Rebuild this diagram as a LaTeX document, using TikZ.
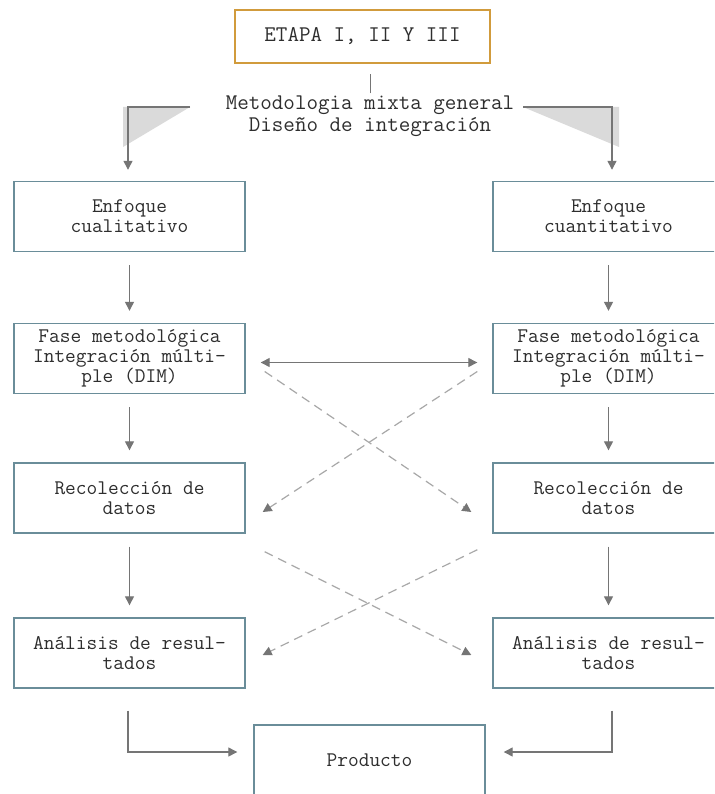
\documentclass[tikz,border=0pt]{standalone}
\usepackage{fontspec}
\usepackage{tikz}
\usetikzlibrary{arrows.meta,calc,positioning}
\definecolor{boxline}{HTML}{6A8D99}
\definecolor{stageline}{HTML}{D19B3C}
\definecolor{arrowgray}{HTML}{757575}
\definecolor{dashgray}{HTML}{A8A8A8}
\definecolor{wedgegray}{HTML}{DADADA}
\definecolor{txtgray}{HTML}{2E2E2E}
\tikzset{
  stagebox/.style={draw=stageline, line width=1.4pt, minimum width=255pt, minimum height=53pt, align=center, text=txtgray, font=\ttfamily\fontsize{22.4}{22}\selectfont},
  phasebox/.style={draw=boxline, line width=1.4pt, fill=white, minimum width=231pt, minimum height=70pt, align=center, text=txtgray, font=\ttfamily\fontsize{20.8}{20}\selectfont},
  headtext/.style={align=center, inner sep=2pt, text=txtgray, font=\ttfamily\fontsize{22.4}{22}\selectfont},
  flow/.style={-{Triangle[length=9pt,width=9pt]}, arrowgray, line width=1.3pt},
  twoway/.style={{Triangle[length=9pt,width=9pt]}-{Triangle[length=9pt,width=9pt]}, arrowgray, line width=1.3pt},
  crossflow/.style={-{Triangle[length=9pt,width=9pt,color=arrowgray]}, dashgray, line width=1.2pt, dash pattern=on 9pt off 6pt},
  tick/.style={arrowgray, line width=0.8pt}
}
\begin{document}
\begin{tikzpicture}[x=1pt,y=-1pt]
  \useasboundingbox (0,0) rectangle (714,794);
  \fill[white] (0,0) rectangle (714,794);
  \clip (0,0) rectangle (714,794);

  % header
  \node[stagebox] (stage) at (362.5,36.5) {ETAPA I, II Y III};
  \node[headtext] (mixed) at (370,116) {Metodologia mixta general\\Diseño de integración};
  \draw[tick, shorten >=10pt] (mixed.north) -- (mixed.north |- stage.south);

  % two columns
  \node[phasebox] (lq) at (129.5,216.5) {Enfoque\\cualitativo};
  \node[phasebox] (rq) at (608.5,216.5) {Enfoque\\cuantitativo};
  \node[phasebox] (lf) at (129.5,358.5) {Fase metodológica\\Integración múlti-\\ple (DIM)};
  \node[phasebox] (rf) at (608.5,358.5) {Fase metodológica\\Integración múlti-\\ple (DIM)};
  \node[phasebox] (lr) at (129.5,498) {Recolección de\\datos};
  \node[phasebox] (rr) at (608.5,498) {Recolección de\\datos};
  \node[phasebox] (la) at (129.5,653) {Análisis de resul-\\tados};
  \node[phasebox] (ra) at (608.5,653) {Análisis de resul-\\tados};
  \node[phasebox] (prod) at (369.5,760) {Producto};

  % split from the header
  \coordinate (splitL) at (190,107);
  \coordinate (splitR) at (523,107);
  \fill[wedgegray] (splitL) -- (123,147) -- (123,107) -- cycle;
  \fill[wedgegray] (splitR) -- (619,147) -- (619,107) -- cycle;
  \draw[flow] (splitL) -| ([shift={(-1.5,-11)}]lq.north);
  \draw[flow] (splitR) -| ([shift={(3.5,-11)}]rq.north);

  % down the columns
  \foreach \a/\b in {lq/lf,lf/lr,lr/la,rq/rf,rf/rr,rr/ra}
    \draw[flow, shorten <=13pt, shorten >=12pt] (\a.south) -- (\b.north);

  % between the columns
  \draw[twoway] ([shift={(15,4)}]lf.east) -- ([shift={(-15,4)}]rf.west);
  \draw[crossflow] ([shift={(19,13)}]lf.east) -- ([shift={(-21,14)}]rr.west);
  \draw[crossflow] ([shift={(-15,13)}]rf.west) -- ([shift={(17,14)}]lr.east);
  \draw[crossflow] ([shift={(19,18)}]lr.south east) -- ([shift={(-21,2)}]ra.west);
  \draw[crossflow] ([shift={(-15,16)}]rr.south west) -- ([shift={(17,2)}]la.east);

  % into the product
  \draw[flow] ([shift={(-1.5,22)}]la.south) |- ([shift={(-16,-8)}]prod.west);
  \draw[flow] ([shift={(3.5,22)}]ra.south) |- ([shift={(18,-8)}]prod.east);
\end{tikzpicture}
\end{document}
